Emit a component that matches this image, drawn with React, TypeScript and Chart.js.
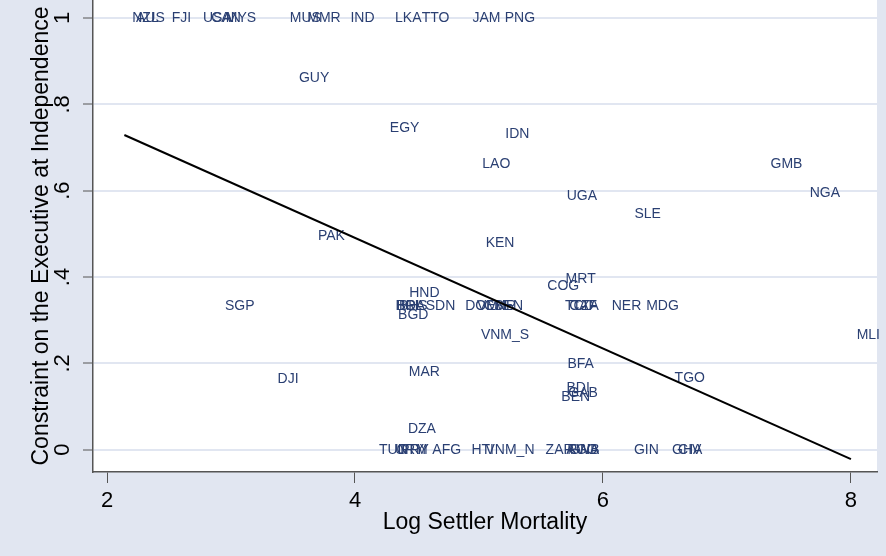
import React, { useEffect, useRef } from "react";
import { Chart, registerables } from "chart.js";
Chart.register(...registerables);

const countryCodes = [
  "NZL", "AUS", "FJI", "USA", "CAN", "MYS", "MUS", "MMR", "IND", "LKA", "TTO", "JAM", "PNG",
  "GUY", "EGY", "IDN", "LAO", "GMB", "UGA", "NGA", "SLE", "PAK", "KEN", "MRT", "COG", "HND",
  "SGP", "BOL", "BRA", "BHS", "SDN", "BGD", "DOM", "VEN", "CMR", "SEN", "TCD", "CAF", "TZA",
  "NER", "MDG", "VNM_S", "MLI", "TGO", "BFA", "MAR", "DJI", "BDI", "GAB", "BEN", "DZA",
  "TUN", "URY", "GTM", "PRY", "AFG", "HTI", "VNM_N", "ZAR", "RWA", "AGO", "GNB", "GIN", "GHA", "CIV",
];
const logMortality = [
  2.31, 2.35, 2.6, 2.89, 2.96, 3.08, 3.6, 3.75, 4.06, 4.43, 4.65, 5.06, 5.33,
  3.67, 4.4, 5.31, 5.14, 7.48, 5.83, 7.79, 6.36, 3.81, 5.17, 5.82, 5.68, 4.56,
  3.07, 4.44, 4.45, 4.47, 4.69, 4.47, 5.02, 5.1, 5.17, 5.24, 5.81, 5.84, 5.86,
  6.19, 6.48, 5.21, 8.14, 6.7, 5.82, 4.56, 3.46, 5.8, 5.84, 5.78, 4.54,
  4.31, 4.44, 4.46, 4.48, 4.74, 5.03, 5.25, 5.65, 5.84, 5.83, 5.85, 6.35, 6.68, 6.7,
];
const constraintAtIndependence = [
  1, 1, 1, 1, 1, 1, 1, 1, 1, 1, 1, 1, 1,
  0.861, 0.745, 0.731, 0.661, 0.661, 0.587, 0.594, 0.546, 0.495, 0.478, 0.395, 0.379, 0.363,
  0.333, 0.333, 0.333, 0.333, 0.333, 0.312, 0.333, 0.333, 0.333, 0.333, 0.333, 0.333, 0.333,
  0.333, 0.333, 0.265, 0.265, 0.166, 0.198, 0.18, 0.163, 0.143, 0.131, 0.122, 0.048,
  0, 0, 0, 0, 0, 0, 0, 0, 0, 0, 0, 0, 0, 0,
];
const fitLineX = [2.14, 8.0];
const fitLineY = [0.729, -0.022];
const xTickValues = [2, 4, 6, 8];
const yTickValues = [0, 0.2, 0.4, 0.6, 0.8, 1];
const yTickLabels = ["0", ".2", ".4", ".6", ".8", "1"];

const FONT = "'Liberation Sans', Arial, Helvetica, sans-serif";
const LABEL_COLOR = "#2a3f72";
const REGION_BG = "#e1e6f1";

const bgPlugin = {
  id: "plotBg",
  beforeDraw(chart: any) {
    const { ctx, chartArea } = chart;
    ctx.save();
    ctx.fillStyle = "#ffffff";
    ctx.fillRect(chartArea.left, chartArea.top, chartArea.right - chartArea.left, chartArea.bottom - chartArea.top);
    ctx.restore();
  },
};

const markerLabelPlugin = {
  id: "markerLabels",
  beforeDatasetsDraw(chart: any) {
    const { ctx } = chart;
    const meta = chart.getDatasetMeta(0);
    ctx.save();
    ctx.font = `14px ${FONT}`;
    ctx.fillStyle = LABEL_COLOR;
    ctx.textAlign = "center";
    ctx.textBaseline = "middle";
    meta.data.forEach((el: any, i: number) => {
      ctx.fillText(countryCodes[i], el.x, el.y);
    });
    ctx.restore();
  },
};

const yTickLabelPlugin = {
  id: "yTickLabels",
  afterDraw(chart: any) {
    const { ctx } = chart;
    const y = chart.scales.y;
    ctx.save();
    ctx.font = `22px ${FONT}`;
    ctx.fillStyle = "#000";
    ctx.textAlign = "center";
    ctx.textBaseline = "middle";
    yTickValues.forEach((v, i) => {
      const py = y.getPixelForValue(v);
      ctx.save();
      ctx.translate(63, py);
      ctx.rotate(-Math.PI / 2);
      ctx.fillText(yTickLabels[i], 0, 0);
      ctx.restore();
    });
    ctx.restore();
  },
};

export default function App() {
  const ref = useRef<HTMLCanvasElement | null>(null);
  useEffect(() => {
    document.body.style.margin = "0";
    const chart = new Chart(ref.current as HTMLCanvasElement, {
      type: "scatter",
      data: {
        datasets: [
          {
            data: countryCodes.map((_, i) => ({ x: logMortality[i], y: constraintAtIndependence[i] })),
            pointRadius: 0,
            pointHoverRadius: 0,
            showLine: false,
          },
          {
            type: "line",
            data: fitLineX.map((x, i) => ({ x, y: fitLineY[i] })),
            borderColor: "#000",
            borderWidth: 2,
            pointRadius: 0,
            fill: false,
          } as any,
        ],
      },
      options: {
        animation: false,
        responsive: true,
        maintainAspectRatio: false,
        layout: { padding: { left: 0, top: 0, right: 9, bottom: 0 } },
        plugins: { legend: { display: false }, tooltip: { enabled: false } },
        scales: {
          x: {
            type: "linear",
            min: 1.887,
            max: 8.21,
            afterBuildTicks: (s: any) => {
              s.ticks = xTickValues.map((v) => ({ value: v }));
            },
            afterFit: (s: any) => {
              s.height = 84;
            },
            ticks: { font: { family: FONT, size: 22 }, color: "#000", padding: 5, callback: (v: any) => String(v) },
            grid: { display: true, drawOnChartArea: false, drawTicks: true, tickLength: 11, tickColor: "#555", tickWidth: 1 },
            border: { display: true, color: "#555", width: 1.5 },
            title: {
              display: true,
              text: "Log Settler Mortality",
              font: { family: FONT, size: 23 },
              color: "#000",
              padding: { top: 0, bottom: 20 },
            },
          },
          y: {
            type: "linear",
            min: -0.0517,
            max: 1.0417,
            afterBuildTicks: (s: any) => {
              s.ticks = yTickValues.map((v) => ({ value: v }));
            },
            afterFit: (s: any) => {
              s.width = 93;
              s.paddingTop = 0;
              s.paddingBottom = 0;
            },
            ticks: { display: false },
            grid: { display: true, color: REGION_BG, lineWidth: 2, drawTicks: true, tickLength: 10, tickColor: "#555", tickWidth: 1 },
            border: { display: true, color: "#555", width: 1.5 },
            title: {
              display: true,
              text: "Constraint on the Executive at Independence",
              font: { family: FONT, size: 23 },
              color: "#000",
              padding: { top: 28, bottom: 0 },
            },
          },
        },
      },
      plugins: [bgPlugin, markerLabelPlugin, yTickLabelPlugin],
    });
    return () => chart.destroy();
  }, []);
  return (
    <div style={{ position: "absolute", left: 0, top: 0, width: 886, height: 556, background: REGION_BG }}>
      <canvas ref={ref} />
    </div>
  );
}
